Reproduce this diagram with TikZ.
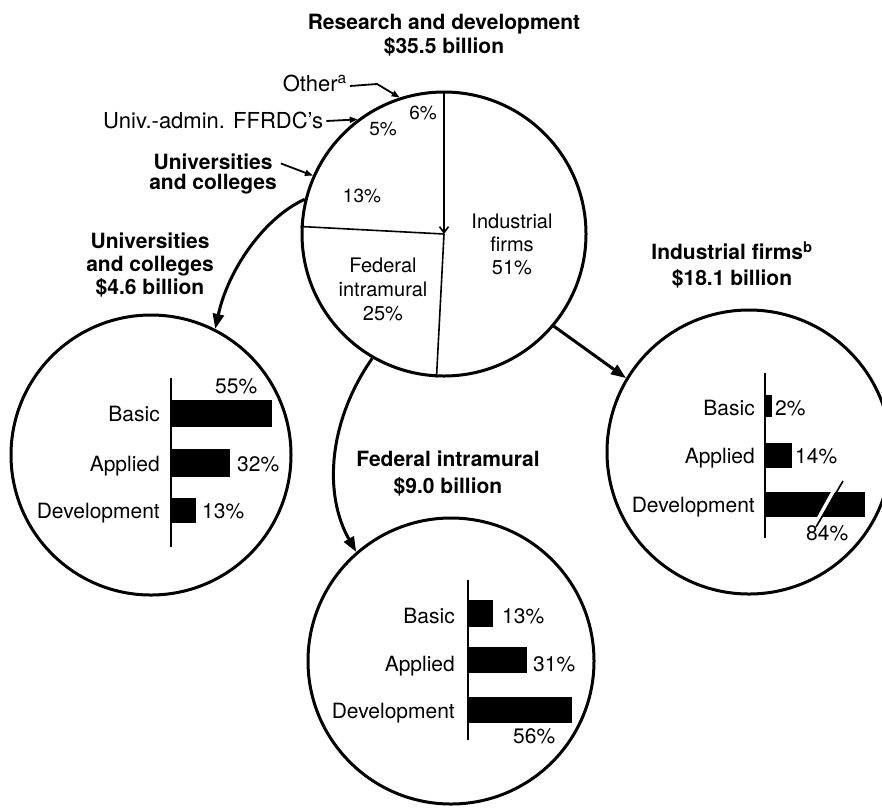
\documentclass[tikz,border=0pt]{standalone}
\usepackage{fontspec}
\setmainfont{TeX Gyre Heros}
\usetikzlibrary{arrows.meta,calc}
\begin{document}
\begin{tikzpicture}[x=1pt,y=-1pt,
  ring/.style={circle,draw,line width=3pt,inner sep=0pt,minimum size=#1},
  conn/.style={line width=3pt,-{Triangle[length=15pt,width=11pt]}},
  lead/.style={line width=1.8pt,-{Triangle[length=8pt,width=6pt]}},
  divl/.style={line width=1.6pt},
  axisl/.style={line width=2pt},
  txt/.style={font=\fontsize{21}{24}\selectfont,inner sep=0pt},
  ltxt/.style={font=\fontsize{22}{25}\selectfont,inner sep=0pt},
  pct/.style={font=\fontsize{19}{22}\selectfont,inner sep=0pt},
  bold/.style={font=\bfseries\fontsize{21}{24}\selectfont,align=center,inner sep=0pt}]
\useasboundingbox (0,0) rectangle (882,807);
\fill[white] (0,0) rectangle (882,807);

% title
\node[bold] (title) at (444,35) {Research and development\\\$35.5 billion};

% circles
\node[ring=284pt] (pie) at (444,234) {};
\node[ring=280pt] (lc) at (151,455) {};
\node[ring=284pt] (rc) at (749,452) {};
\node[ring=286pt] (bc) at (451,661) {};

% pie dividers
\draw[divl,-{Straight Barb[length=6pt,width=9pt]}] (pie.north) -- (pie.center);
\draw[divl] (pie.center) -- (pie.-93);
\draw[divl] (pie.center) -- (pie.177);

% pie labels
\node[pct] (p6) at (423,113) {6\%};
\node[pct] (p5) at (383,129) {5\%};
\node[pct] (p13) at (362,196) {13\%};
\node[txt,align=center,font=\fontsize{20}{23}\selectfont] (pind) at (512,244) {Industrial\\firms\\51\%};
\node[txt,align=center,font=\fontsize{20}{24}\selectfont] (pfed) at (383,289) {Federal\\intramural\\25\%};

% leader labels
\node[ltxt,anchor=base east] (oth) at (347,91) {Other\textsuperscript{a}};
\draw[lead] ([xshift=3pt,yshift=5pt]oth.base east) -- ++(27,-2) -- (pie.108);
\node[ltxt,anchor=base west] (ffr) at (103,128) {Univ.-admin. FFRDC's};
\draw[lead] ([xshift=3pt,yshift=7pt]ffr.base east) -- (pie.127);
\node[bold,font=\bfseries\fontsize{21}{20.5}\selectfont] (univ) at (213,174) {Universities\\and colleges};
\draw[lead] ($(univ.north east)+(4,10)$) -- (pie.156);

% group labels
\node[bold,font=\bfseries\fontsize{21}{23}\selectfont] (ulab) at (150,265) {Universities\\and colleges\\\$4.6 billion};
\node[bold,font=\bfseries\fontsize{21}{26}\selectfont] (ilab) at (732,265) {Industrial firms\textsuperscript{b}\\\$18.1 billion};
\node[bold,font=\bfseries\fontsize{21}{27}\selectfont] (flab) at (448,473) {Federal intramural\\\$9.0 billion};

% connectors
\draw[conn] (pie.166) .. controls +(-40,18) and +(13,-60) .. (lc.63);
\draw[conn] (pie.-40) -- (rc.149);
\draw[conn] (pie.-120) .. controls +(-44,63) and +(-33,-58) .. (bc.131);

% left circle bars
\fill (171,400) rectangle (272,427);
\fill (171,449) rectangle (230,477);
\fill (171,498) rectangle (196,523);
\draw[axisl] (171,378) -- (171,547);
\node[txt,anchor=base east] (lb1) at (160,421) {Basic};
\node[txt,anchor=base east] (lb2) at (160,471) {Applied};
\node[txt,anchor=base east] (lb3) at (160,518) {Development};
\node[txt,anchor=base west] (lp1) at (215,393) {55\%};
\node[txt,anchor=base west] (lp2) at (237,471) {32\%};
\node[txt,anchor=base west] (lp3) at (202,518) {13\%};

% right circle bars
\fill (765,395) rectangle (772,417);
\fill (765,443) rectangle (792,468);
\fill (765,492) rectangle (865,517);
\draw[white,line width=3.5pt] (818,519) -- (834,490);
\draw[line width=1.6pt] (816,527) -- (843,481);
\draw[axisl] (765,373) -- (765,538);
\node[txt,anchor=base east] (rb1) at (755,415) {Basic};
\node[txt,anchor=base east] (rb2) at (755,463) {Applied};
\node[txt,anchor=base east] (rb3) at (755,512) {Development};
\node[txt,anchor=base west] (rp1) at (775,415) {2\%};
\node[txt,anchor=base west] (rp2) at (795,463) {14\%};
\node[txt,anchor=base west] (rp3) at (806,540) {84\%};

% bottom circle bars
\fill (468,600) rectangle (493,627);
\fill (468,647) rectangle (527,673);
\fill (468,697) rectangle (572,723);
\draw[axisl] (468,580) -- (468,740);
\node[txt,anchor=base east] (bb1) at (455,623) {Basic};
\node[txt,anchor=base east] (bb2) at (455,671) {Applied};
\node[txt,anchor=base east] (bb3) at (455,718) {Development};
\node[txt,anchor=base west] (bp1) at (502,623) {13\%};
\node[txt,anchor=base west] (bp2) at (533,671) {31\%};
\node[txt,anchor=base west] (bp3) at (513,743) {56\%};
\end{tikzpicture}
\end{document}
